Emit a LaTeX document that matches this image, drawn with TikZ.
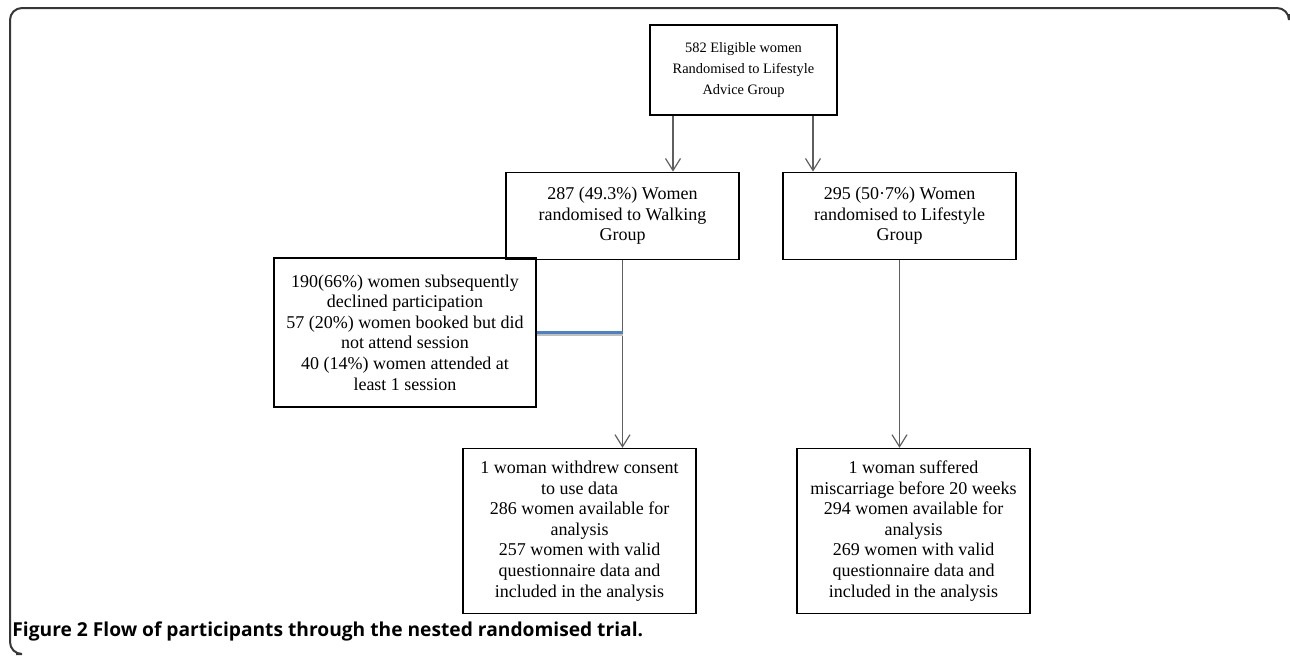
\documentclass[tikz,border=0pt]{standalone}
\usepackage{fontspec}
\setmainfont{Liberation Serif}
\newfontfamily\capfont{Open Sans}
\usepackage{tikz}
\usetikzlibrary{arrows.meta, positioning}
\definecolor{colorFrame}{RGB}{55,55,55}
\definecolor{colorLink}{RGB}{95,95,95}
\definecolor{colorSide}{RGB}{79,129,189}
\tikzset{
  flowbox/.style={draw=black, line width=0.6pt, align=center, inner sep=2pt, minimum width=116.5pt, font=\fontsize{9pt}{10.3pt}\selectfont},
  link/.style={draw=colorLink, line width=0.6pt, -{Straight Barb[length=6pt,width=7.5pt]}},
  sideline/.style={draw=colorSide, line width=1.5pt, preaction={draw=black!25, line width=1.5pt, transform canvas={yshift=-1pt}}}
}

\begin{document}
\begin{tikzpicture}[node distance=28pt]
\useasboundingbox (0,0) rectangle (645pt,-327.5pt);
\draw[colorFrame, line width=1pt, rounded corners=6pt] (8pt,-327pt) -| (5pt,-4pt) -| (644.5pt,-7pt);
\node[flowbox, minimum width=93.5pt, minimum height=45pt, font=\fontsize{7.2pt}{10.4pt}\selectfont] (elig) at (371.75pt,-35pt) {582 Eligible women\\Randomised to Lifestyle\\Advice Group};
\node[flowbox, minimum height=43.5pt, below=28pt of elig.south, anchor=north, xshift=-60.5pt] (walk) {287 (49.3\%) Women\\randomised to Walking\\Group};
\node[flowbox, minimum height=43.5pt, below=28pt of elig.south, anchor=north, xshift=78pt] (life) {295 (50·7\%) Women\\randomised to Lifestyle\\Group};
\node[flowbox, minimum width=131pt, minimum height=74.5pt] (decl) at (202.5pt,-166.25pt) {190(66\%) women subsequently\\declined participation\\57 (20\%) women booked but did\\not attend session\\40 (14\%) women attended at\\least 1 session};
\node[flowbox, minimum height=82.5pt, below=94pt of walk, xshift=-21.5pt] (walkres) {1 woman withdrew consent\\to use data\\286 women available for\\analysis\\257 women with valid\\questionnaire data and\\included in the analysis};
\node[flowbox, minimum height=82.5pt, below=94pt of life, xshift=7pt] (liferes) {1 woman suffered\\miscarriage before 20 weeks\\294 women available for\\analysis\\269 women with valid\\questionnaire data and\\included in the analysis};
\draw[link] ([xshift=-35.25pt]elig.south) -- ([xshift=-35.25pt]elig.south |- walk.north);
\draw[link] ([xshift=34.75pt]elig.south) -- ([xshift=34.75pt]elig.south |- life.north);
\draw[link] (walk.south) -- (walk.south |- walkres.north);
\draw[link] (life.south) -- (life.south |- liferes.north);
\draw[sideline] (decl.east) -- (decl.east -| walk.south);
\node[anchor=base west, inner sep=0pt, font=\capfont\bfseries\fontsize{9.6pt}{11pt}\selectfont] (caption) at (6pt,-318pt) {Figure 2 Flow of participants through the nested randomised trial.};
\end{tikzpicture}
\end{document}
